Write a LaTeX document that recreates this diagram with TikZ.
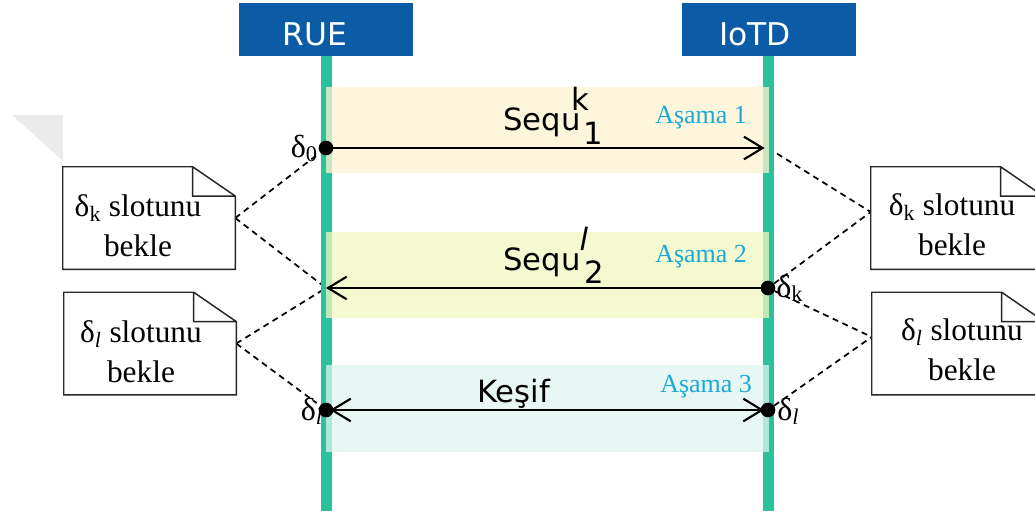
\documentclass[tikz,border=0pt]{standalone}
\usepackage{fontspec}
\setmainfont{Liberation Serif}
\newfontfamily\sansf{DejaVu Sans}
\usetikzlibrary{arrows.meta}

\definecolor{hdrblue}{RGB}{11,91,166}
\definecolor{life}{RGB}{43,193,157}
\definecolor{bandA}{RGB}{254,243,208}
\definecolor{bandB}{RGB}{240,247,192}
\definecolor{bandC}{RGB}{223,244,239}
\definecolor{phase}{RGB}{28,169,214}

\pgfdeclarelayer{leaders}
\pgfdeclarelayer{lanes}
\pgfdeclarelayer{bands}
\pgfsetlayers{leaders,lanes,bands,main}

\tikzset{barb/.tip={Straight Barb[length=14pt,width=17pt]}}

\begin{document}
\begin{tikzpicture}[x=0.75pt,y=-0.75pt,
  hdr/.style={fill=hdrblue, minimum width=130.5pt, minimum height=39.75pt, inner sep=0pt},
  hdrtext/.style={text=white, font=\sansf\fontsize{23.5}{28}\selectfont, inner sep=0pt, anchor=base},
  lane/.style={draw=life, line width=8.25pt},
  band/.style={fill opacity=0.75, minimum width=332.25pt, inner sep=0pt, anchor=north west},
  msg/.style={line width=1.6pt, black},
  msgtext/.style={font=\sansf\fontsize{23}{27}\selectfont, inner sep=0pt, anchor=base west},
  phasetext/.style={text=phase, font=\fontsize{19.5}{24}\selectfont, inner sep=0pt, anchor=base west},
  dot/.style={circle, fill=black, minimum size=11pt, inner sep=0pt},
  dlabel/.style={font=\fontsize{24}{28}\selectfont, inner sep=0pt},
  leader/.style={dashed, dash pattern=on 4.5pt off 3.5pt, line width=1.3pt, black},
  notelines/.style={draw=black!85, line width=1.1pt},
  note/.style={minimum width=129pt, minimum height=76.5pt, inner sep=0pt,
    append after command={\pgfextra{%
      \draw[notelines] (\tikzlastnode.north west)
        -- ([xshift=-32pt]\tikzlastnode.north east)
        -- ([yshift=-22pt]\tikzlastnode.north east)
        -- (\tikzlastnode.south east) -- (\tikzlastnode.south west) -- cycle
        ([xshift=-32pt]\tikzlastnode.north east) |- ([yshift=-22pt]\tikzlastnode.north east);}}},
  notetext/.style={font=\fontsize{23.5}{30}\selectfont, align=center, inner sep=0pt}
]
\useasboundingbox (0,0) rectangle (1035,511);

% faint corner mark
\fill[black!8] (12,115) -- (63,115) -- (63,161) -- cycle;

% participants
\node[hdr] (rue) at (326,29.5) {};
\node[hdr] (iotd) at (769,29.5) {};
\node[hdrtext] (rueT) at (315,45) {RUE};
\node[hdrtext] (iotdT) at (755,45) {IoTD};

\coordinate (rueEnd) at (326,511);
\coordinate (iotdEnd) at (768,511);
\begin{pgfonlayer}{lanes}
  \draw[lane] (rue.south -| rueEnd) -- (rueEnd);
  \draw[lane] (iotd.south -| iotdEnd) -- (iotdEnd);
\end{pgfonlayer}

% phase bands
\begin{pgfonlayer}{bands}
  \node[band, fill=bandA, minimum height=64.5pt] (ph1) at (326,87) {};
  \node[band, fill=bandB, minimum height=64.5pt] (ph2) at (326,232) {};
  \node[band, fill=bandC, minimum height=65.25pt] (ph3) at (326,365) {};
\end{pgfonlayer}

% event points
\node[dot] (d0) at (326,148) {};
\node[dot] (dk) at (768,288) {};
\node[dot] (dl1) at (326,410) {};
\node[dot] (dl2) at (768,410) {};
\coordinate (t1) at (768,148);
\coordinate (t2) at (326,288);

% messages
\draw[msg, -{barb}, shorten >=2.5pt] (d0.center) -- (t1);
\draw[msg, -{barb}] (dk.center) -- (t2);
\draw[msg, {barb}-{barb}, shorten <=3pt, shorten >=3pt] (dl1.center) -- (dl2.center);

\node[msgtext] (m1) at (503,130) {Seq\kern0.02em u\rlap{\kern-0.3em\raisebox{0.62em}{k}}\kern0.08em\raisebox{-0.46em}{1}};
\node[msgtext] (m2) at (503,270) {Seq\kern0.02em u\rlap{\kern-0.05em\raisebox{0.62em}{\itshape l}}\kern0.12em\raisebox{-0.44em}{2}};
\node[msgtext] (m3) at (477,402) {Keşif};

\node[phasetext] (a1) at (655,123) {Aşama 1};
\node[phasetext] (a2) at (655,262) {Aşama 2};
\node[phasetext] (a3) at (660,392) {Aşama 3};

% time labels
\node[dlabel, anchor=base east] (l0) at (318,157) {δ\textsubscript{0}};
\node[dlabel, anchor=base west] (lk) at (776,297) {δ\textsubscript{k}};
\node[dlabel, anchor=base east] (ll1) at (323,420) {δ\textsubscript{\itshape l}};
\node[dlabel, anchor=base west] (ll2) at (777,420) {δ\textsubscript{\itshape l}};

% waiting notes
\node[note] (lb1) at (149,218) {};
\node[note] (lb2) at (150,343.5) {};
\node[note] (rb1) at (957,218) {};
\node[note] (rb2) at (958,343.5) {};
\node[notetext] (lb1t) at (138,226) {δ\textsubscript{k} slotunu\\bekle};
\node[notetext] (lb2t) at (141,352) {δ\textsubscript{\itshape l} slotunu\\bekle};
\node[notetext] (rb1t) at (952,225) {δ\textsubscript{k} slotunu\\bekle};
\node[notetext] (rb2t) at (962,350) {δ\textsubscript{\itshape l} slotunu\\bekle};

% note leaders
\begin{pgfonlayer}{leaders}
  \draw[leader, shorten >=3pt] (lb1.east) -- (d0);
  \draw[leader] (lb1.east) -- (t2);
  \draw[leader] (lb2.east) -- (t2);
  \draw[leader, shorten >=3pt] (lb2.east) -- (dl1);
  \draw[leader] (t1) -- ([yshift=4.5pt]rb1.west);
  \draw[leader] (dk) -- ([yshift=4.5pt]rb1.west);
  \draw[leader] (dk) -- ([yshift=4.9pt]rb2.west);
  \draw[leader] (dl2) -- ([yshift=4.9pt]rb2.west);
\end{pgfonlayer}
\end{tikzpicture}
\end{document}
